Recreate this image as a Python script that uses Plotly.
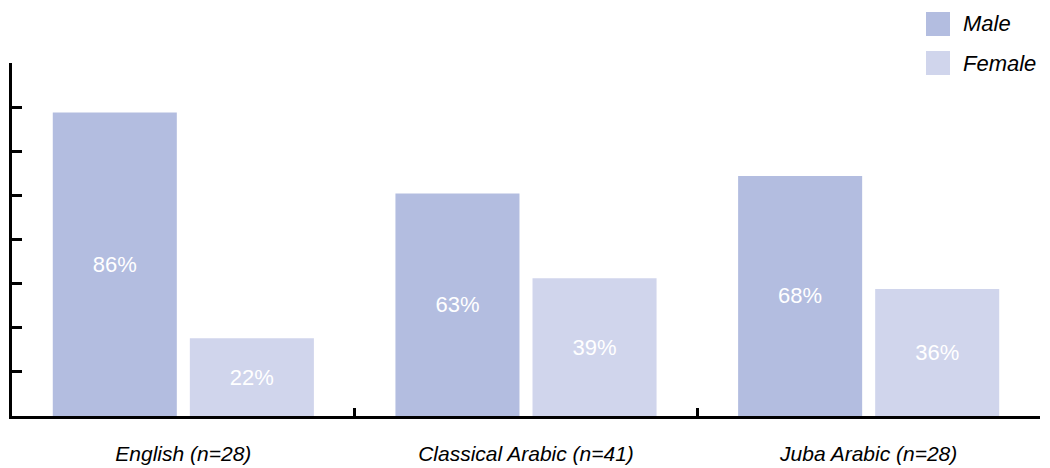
import plotly.graph_objects as go

categories = ["English (n=28)", "Classical Arabic (n=41)", "Juba Arabic (n=28)"]
male = [86, 63, 68]
female = [22, 39, 36]
series_names = ["Male", "Female"]
colors = ["#b3bde0", "#d0d5ec"]

FONT = "Liberation Sans, Arial, Helvetica"

fig = go.Figure()
for name, vals, col in zip(series_names, [male, female], colors):
    fig.add_trace(go.Bar(
        x=categories, y=vals, name=name,
        marker=dict(color=col, line=dict(width=0)),
        text=[f"{v}%" for v in vals], textposition="inside",
        insidetextanchor="middle",
        textfont=dict(color="white", size=22, family=FONT),
        showlegend=False,
    ))

# Legend drawn as swatches + text in paper coordinates
L, R, T, B = 12, 10, 63, 52
PW, PH = 1050 - L - R, 468 - T - B
def px(x): return (x - L) / PW
def py(y): return (468 - B - y) / PH

shapes = []
annotations = []
for i, (name, col) in enumerate(zip(series_names, colors)):
    top = 12 + i * 39
    shapes.append(dict(type="rect", xref="paper", yref="paper",
                       x0=px(926), x1=px(950), y0=py(top + 24), y1=py(top),
                       fillcolor=col, line=dict(width=0)))
    annotations.append(dict(xref="paper", yref="paper", x=px(961), y=py(top + 12),
                            xanchor="left", yanchor="middle", text=name,
                            showarrow=False,
                            font=dict(size=22, style="italic", family=FONT, color="black")))

fig.update_layout(
    width=1050, height=468,
    margin=dict(l=L, r=R, t=T, b=B, autoexpand=False),
    plot_bgcolor="white", paper_bgcolor="white",
    barmode="group", bargap=0.20, bargroupgap=0.095,
    font=dict(family=FONT, color="black"),
    shapes=shapes, annotations=annotations,
)
fig.update_xaxes(showline=True, linecolor="black", linewidth=3,
                 ticks="inside", tickson="boundaries", ticklen=8, tickwidth=3,
                 tickcolor="black", showgrid=False, automargin=False,
                 tickfont=dict(size=21, style="italic", family=FONT),
                 ticklabelstandoff=17)
fig.update_yaxes(range=[0, 100], tick0=0, dtick=12.5, showline=True,
                 linecolor="black", linewidth=3, ticks="inside", ticklen=10,
                 tickwidth=3, tickcolor="black", showticklabels=False,
                 showgrid=False, zeroline=False, automargin=False)

fig.write_html("out.html", config={"displayModeBar": False},
               post_script="document.body.style.margin='0';document.body.style.overflow='hidden';")
